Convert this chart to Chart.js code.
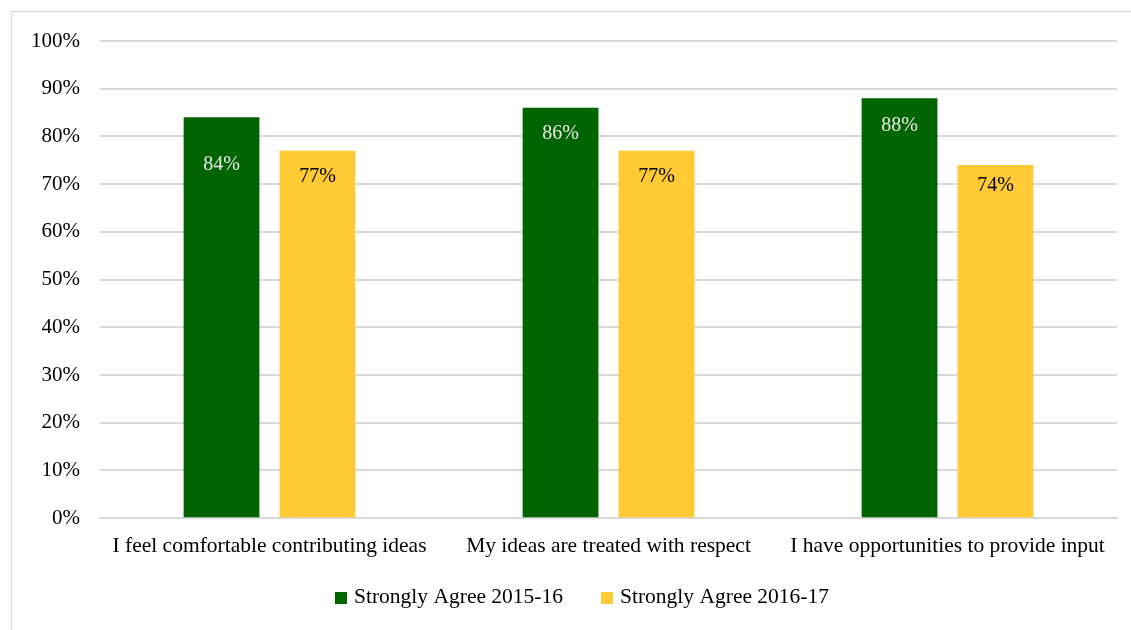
<!DOCTYPE html>
<html>
<head>
<meta charset="utf-8">
<script src="https://cdn.jsdelivr.net/npm/chart.js@4/dist/chart.umd.min.js"></script>
<style>
  html, body { margin: 0; padding: 0; background: #fff; overflow: hidden; }
  #frame {
    position: absolute; left: 11px; top: 11px;
    width: 1200px; height: 700px;
    border: 1px solid #d9d9d9;
  }
  #chart { position: absolute; left: 0; top: 0; }
</style>
</head>
<body>
<div id="frame"></div>
<canvas id="chart" width="1131" height="630"></canvas>
<script>
"use strict";

// ── Data ──────────────────────────────────────────────────────────────────────
const categories = [
  "I feel comfortable contributing ideas",
  "My ideas are treated with respect",
  "I have opportunities to provide input",
];
const seriesLabels = ["Strongly Agree 2015-16", "Strongly Agree 2016-17"];
const agree2015 = [84, 86, 88];
const agree2016 = [77, 77, 74];
const yTicks    = [0, 10, 20, 30, 40, 50, 60, 70, 80, 90, 100];

// ── Style ─────────────────────────────────────────────────────────────────────
const GREEN  = "#006400";
const YELLOW = "#ffca33";
const GRID   = "#d9d9d9";
const FONT   = "'Liberation Serif', 'DejaVu Serif', serif";

// distance from bar top to the value label centre, per dataset / bar
const labelDrop  = [[47, 26, 27], [26, 26, 21]];
const labelColor = ["#e8e8e8", "#000"];

// ── Value labels inside the bars ──────────────────────────────────────────────
const valueLabels = {
  id: "valueLabels",
  afterDatasetsDraw(chart) {
    const ctx = chart.ctx;
    ctx.save();
    ctx.font = `20px ${FONT}`;
    ctx.textAlign = "center";
    ctx.textBaseline = "middle";
    chart.data.datasets.forEach((ds, di) => {
      chart.getDatasetMeta(di).data.forEach((bar, i) => {
        ctx.fillStyle = labelColor[di];
        ctx.fillText(ds.data[i] + "%", bar.x, bar.y + labelDrop[di][i]);
      });
    });
    ctx.restore();
  },
};

// ── Legend row along the bottom ───────────────────────────────────────────────
const bottomLegend = {
  id: "bottomLegend",
  afterDraw(chart) {
    const ctx = chart.ctx;
    const box = 12, gap = 7, spacing = 38;
    const y = 597, centre = 582;
    ctx.save();
    ctx.font = `21.5px ${FONT}`;
    ctx.textBaseline = "middle";
    const items = chart.data.datasets.map(ds => ({
      text: ds.label, color: ds.backgroundColor, w: ctx.measureText(ds.label).width,
    }));
    const total = items.reduce((s, it) => s + box + gap + it.w, 0) + spacing * (items.length - 1);
    let x = centre - total / 2;
    items.forEach(it => {
      ctx.fillStyle = it.color;
      ctx.fillRect(x, y - box / 2 + 1, box, box);
      ctx.fillStyle = "#000";
      ctx.fillText(it.text, x + box + gap, y);
      x += box + gap + it.w + spacing;
    });
    ctx.restore();
  },
};

// ── Chart ─────────────────────────────────────────────────────────────────────
new Chart(document.getElementById("chart"), {
  type: "bar",
  data: {
    labels: categories,
    datasets: [
      { label: seriesLabels[0], data: agree2015, backgroundColor: GREEN },
      { label: seriesLabels[1], data: agree2016, backgroundColor: YELLOW },
    ],
  },
  options: {
    responsive: false,
    animation: false,
    categoryPercentage: 0.566,
    barPercentage: 0.79,
    layout: { padding: { top: 41, right: 14, bottom: 56, left: 0 } },
    plugins: {
      legend: { display: false },
      tooltip: { enabled: false },
    },
    scales: {
      x: {
        grid: { display: false, drawTicks: false },
        border: { display: true, color: GRID, width: 2 },
        ticks: { color: "#000", font: { family: FONT, size: 21.5 }, padding: 15 },
      },
      y: {
        min: 0,
        max: 100,
        afterFit: s => { s.width = 100; },
        afterBuildTicks: s => { s.ticks = yTicks.map(v => ({ value: v })); },
        grid: { color: GRID, lineWidth: 2, drawTicks: false },
        border: { display: false },
        ticks: {
          color: "#000",
          font: { family: FONT, size: 21 },
          padding: 20,
          callback: v => v + "%",
        },
      },
    },
  },
  plugins: [valueLabels, bottomLegend],
});
</script>
</body>
</html>
